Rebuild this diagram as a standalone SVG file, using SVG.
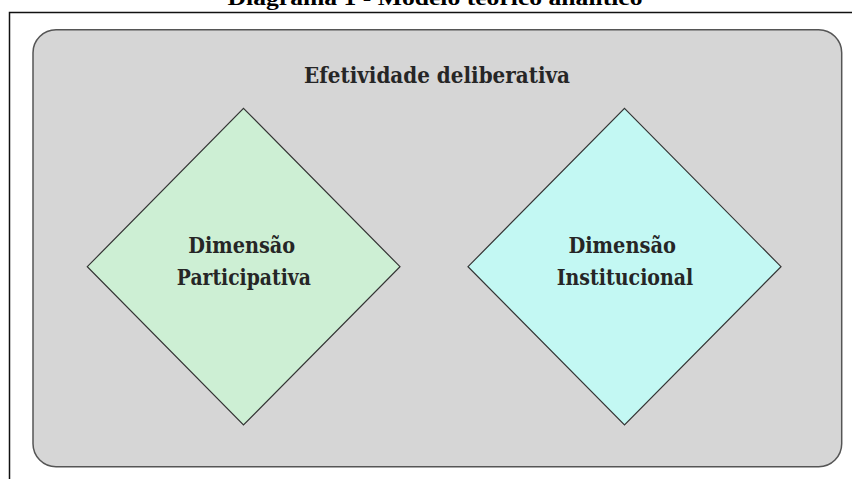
<svg xmlns="http://www.w3.org/2000/svg" width="852" height="479" viewBox="0 0 852 479">
<style>
.lbl{font-family:"DejaVu Serif","Liberation Serif",serif;font-weight:bold;fill:#262626;text-anchor:middle}
.dia{stroke:#333;stroke-width:1.2}
</style>
<rect x="0" y="0" width="852" height="479" fill="#fff"/>
<text x="435" y="5" font-family="Liberation Serif, serif" font-weight="bold" font-size="21" text-anchor="middle" textLength="415" lengthAdjust="spacingAndGlyphs" fill="#000">Diagrama 1 - Modelo teórico analítico</text>
<path d="M9.5 479 V12.5 H852" fill="none" stroke="#111" stroke-width="1.5"/>
<g id="container">
<rect x="33" y="29.7" width="808.7" height="437" rx="23" ry="23" fill="#d6d6d6" stroke="#555" stroke-width="1.5"/>
<text class="lbl" x="437" y="82.5" font-size="23" textLength="266" lengthAdjust="spacingAndGlyphs">Efetividade deliberativa</text>
</g>
<g id="participativa">
<polygon class="dia" points="243.5,108.3 400,266.7 243.5,425 87.3,266.7" fill="#cdefd4"/>
<text class="lbl" x="241.7" y="252.7" font-size="22.5" textLength="107" lengthAdjust="spacingAndGlyphs">Dimensão</text>
<text class="lbl" x="243.8" y="284.6" font-size="22.5" textLength="134" lengthAdjust="spacingAndGlyphs">Participativa</text>
</g>
<g id="institucional">
<polygon class="dia" points="624.5,108.3 781,266.7 624.5,425 468,266.7" fill="#c3f8f3"/>
<text class="lbl" x="622.2" y="252.7" font-size="22.5" textLength="107.5" lengthAdjust="spacingAndGlyphs">Dimensão</text>
<text class="lbl" x="625" y="284.6" font-size="22.5" textLength="136.6" lengthAdjust="spacingAndGlyphs">Institucional</text>
</g>
<g id="connectors"></g>
</svg>
